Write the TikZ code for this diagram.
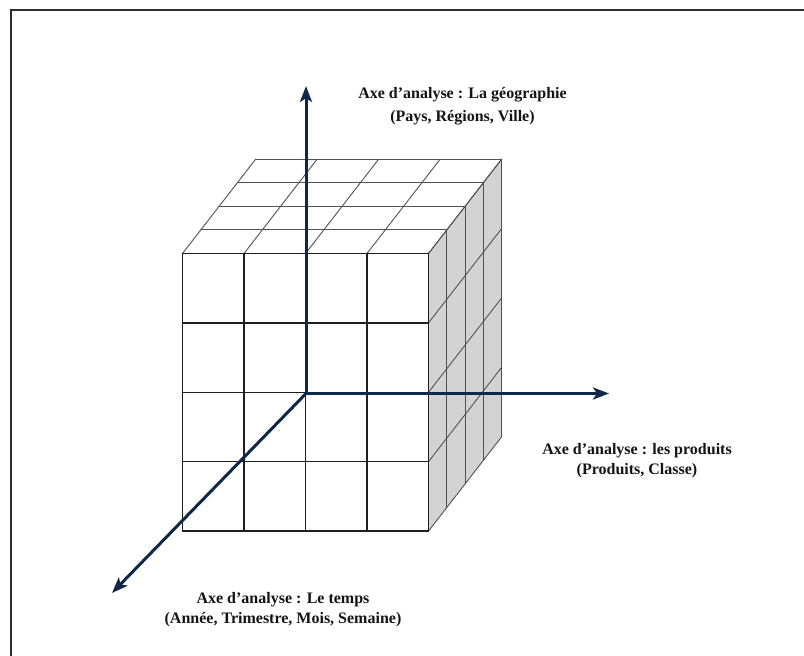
\documentclass[tikz,border=0pt]{standalone}
\usepackage{fontspec}
\setmainfont{Liberation Serif}
\usetikzlibrary{arrows.meta}
\definecolor{axisblue}{HTML}{0F2847}
\definecolor{sideface}{HTML}{D3D3D3}
\begin{document}
\begin{tikzpicture}[x=1pt,y=-1pt,
  frontgrid/.style={line width=1.4pt, draw=black!88, line cap=round},
  backgrid/.style={line width=0.9pt, draw=black!68, line cap=round},
  axisline/.style={line width=3pt, draw=axisblue, -{Stealth[length=16pt,width=12pt,inset=4pt]}},
  axislabel/.style={font=\fontsize{16}{20}\selectfont\bfseries, align=center, text=black!92, inner sep=0pt}]
\useasboundingbox (0,0) rectangle (804,656);
\fill[white] (0,0) rectangle (804,656);
% page frame
\draw[line width=2.2pt, black!82] (11,656) -- (11,10) -- (804,10);

% cube geometry: front face, cell sizes and one depth step
\pgfmathsetmacro{\xl}{182.5}
\pgfmathsetmacro{\yt}{253.5}
\pgfmathsetmacro{\cw}{61.5}
\pgfmathsetmacro{\ch}{69.4}
\pgfmathsetmacro{\ddx}{18.3}
\pgfmathsetmacro{\ddy}{-23.6}
\pgfmathsetmacro{\xr}{\xl+4*\cw}
\pgfmathsetmacro{\yb}{\yt+4*\ch}
\pgfmathsetmacro{\DX}{4*\ddx}
\pgfmathsetmacro{\DY}{4*\ddy}

% faces
\fill[sideface] (\xr,\yt) -- (\xr+\DX,\yt+\DY) -- (\xr+\DX,\yb+\DY) -- (\xr,\yb) -- cycle;
\fill[white] (\xl,\yt) -- (\xl+\DX,\yt+\DY) -- (\xr+\DX,\yt+\DY) -- (\xr,\yt) -- cycle;
\fill[white] (\xl,\yt) rectangle (\xr,\yb);

% top face grid
\foreach \k in {1,...,4}
  \draw[backgrid] (\xl+\k*\ddx,\yt+\k*\ddy) -- (\xr+\k*\ddx,\yt+\k*\ddy);
\foreach \i in {0,...,4}
  \draw[backgrid] (\xl+\i*\cw,\yt) -- (\xl+\i*\cw+\DX,\yt+\DY);
% right face grid
\foreach \k in {1,...,4}
  \draw[backgrid] (\xr+\k*\ddx,\yt+\k*\ddy) -- (\xr+\k*\ddx,\yb+\k*\ddy);
\foreach \j in {0,...,4}
  \draw[backgrid] (\xr,\yt+\j*\ch) -- (\xr+\DX,\yt+\j*\ch+\DY);
% front face grid
\foreach \i in {0,...,4}
  \draw[frontgrid] (\xl+\i*\cw,\yt) -- (\xl+\i*\cw,\yb);
\foreach \j in {0,...,4}
  \draw[frontgrid] (\xl,\yt+\j*\ch) -- (\xr,\yt+\j*\ch);

% analysis axes
\coordinate (origin) at (306,393.5);
\coordinate (geoTip) at (306,86);
\coordinate (prodTip) at (609,393.5);
\coordinate (timeTip) at (112,593);
\draw[axisline] (origin) -- (geoTip);
\draw[axisline] (origin) -- (prodTip);
\draw[axisline] (origin) -- (timeTip);

% axis labels
\node[axislabel, font=\fontsize{16}{23}\selectfont\bfseries] (geoLabel) at (462.5,106.5)
  {Axe d’analyse : La géographie\\(Pays, Régions, Ville)};
\node[axislabel] (prodLabel) at (637,461)
  {Axe d’analyse : les produits\\(Produits, Classe)};
\node[axislabel] (timeLabel) at (283,610)
  {Axe d’analyse : Le temps\\(Année, Trimestre, Mois, Semaine)};
\end{tikzpicture}
\end{document}
